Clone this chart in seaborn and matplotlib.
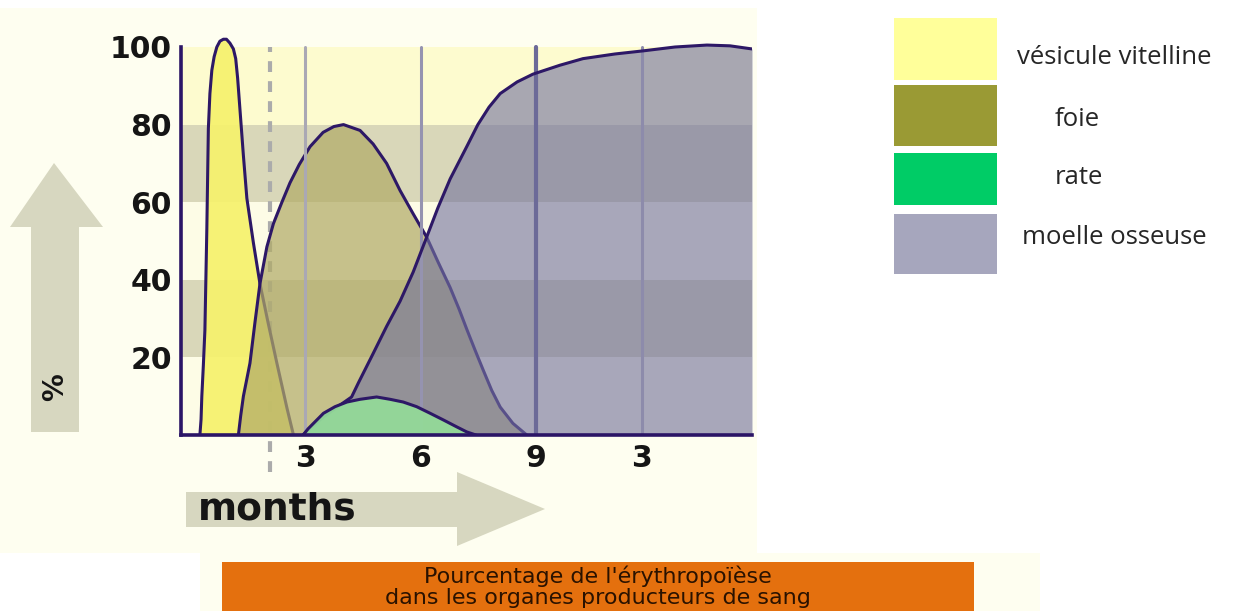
import matplotlib
matplotlib.use("Agg")
import matplotlib.pyplot as plt
from matplotlib.patches import Polygon, Rectangle
import seaborn as sns

# --- values: x = months, y = % of erythropoiesis ---
yolk_x = [0.27, 0.30, 0.32, 0.36, 0.40, 0.45, 0.49, 0.53, 0.58, 0.64, 0.71, 0.79, 0.88,
          0.96, 1.05, 1.14, 1.20, 1.25, 1.31, 1.40, 1.49, 1.66, 1.83, 2.04, 2.27, 2.53, 2.70]
yolk_y = [0, 4, 10, 18, 27, 53, 79, 88, 94, 97.5, 100, 101.5, 102,
          102, 101, 99.5, 97, 92, 84, 72, 61, 49.5, 39, 29, 18.5, 7, 0]

liver_x = [1.27, 1.33, 1.40, 1.57, 1.70, 1.83, 2.01, 2.18, 2.40, 2.61, 2.85, 3.13, 3.47,
           3.75, 4.00, 4.43, 4.77, 5.12, 5.47, 5.81, 6.16, 6.46, 6.77, 7.00, 7.20, 7.42,
           7.63, 7.85, 8.07, 8.40, 8.76]
liver_y = [0, 5, 10, 18.5, 29, 39, 48.5, 54.5, 60, 65, 69.7, 74.3, 78,
           79.5, 80, 78.5, 75, 70, 63, 57, 51, 44.5, 38, 32.5, 27.3, 21.8,
           16.7, 11.5, 7.2, 3, 0]

spleen_x = [2.95, 3.08, 3.22, 3.48, 3.78, 4.09, 4.43, 4.86, 5.21, 5.55, 5.90, 6.25,
            6.59, 6.94, 7.20, 7.44]
spleen_y = [0, 1.6, 3, 5.6, 7.3, 8.5, 9.2, 9.8, 9.2, 8.5, 7.3, 5.6,
            3.9, 2.1, 0.8, 0]

marrow_x = [2.95, 3.20, 3.47, 3.85, 4.21, 4.39, 4.77, 5.12, 5.47, 5.81, 6.16, 6.45,
            6.77, 7.21, 7.49, 7.78, 8.07, 8.51, 8.92, 9.62, 10.22, 11.05, 11.78, 12.61,
            13.44, 14.04, 14.61]
marrow_y = [0, 2.3, 4.6, 7.3, 9.8, 13.5, 21, 28, 34.5, 42, 51, 58.5,
            66, 74.5, 80, 84.5, 88, 91, 93, 95.3, 97, 98.2, 99, 100,
            100.5, 100.3, 99.5]

y_ticks = [20, 40, 60, 80, 100]
y_tick_labels = ["20", "40", "60", "80", "100"]
x_ticks = [3, 6, 9, 11.75]
x_tick_labels = ["3", "6", "9", "3"]
birth_line = 2.09

legend_names = ["vésicule vitelline", "foie", "rate", "moelle osseuse"]
legend_colors = ["#ffff9a", "#9a9a34", "#00cc66", "#a6a6bd"]
caption_lines = ["Pourcentage de l'érythropoïèse",
                 "dans les organes producteurs de sang"]

W, H = 1238, 611
OUTLINE = "#2d1866"

sns.set_style("white")
plt.rcParams["font.family"] = ["DejaVu Sans"]

fig = plt.figure(figsize=(W / 100, H / 100), dpi=100, facecolor="white")


def fx(px):
    return px / W


def fy(py):
    return 1 - py / H


def fig_rect(x0, y0, x1, y1, color, z=0.1):
    fig.patches.append(Rectangle((fx(x0), fy(y1)), fx(x1) - fx(x0), fy(y0) - fy(y1),
                                 transform=fig.transFigure, color=color, lw=0, zorder=z))


# background of the chart image and of the caption
fig_rect(0, 8, 757, 553, "#fefef0")
fig_rect(200, 553, 1040, 611, "#fefef0")
fig_rect(222, 562, 974, 611, "#e4700e", z=0.2)

# decorative arrows
up_arrow = [(31, 432), (79, 432), (79, 227), (103, 227), (54, 163), (10, 227), (31, 227)]
right_arrow = [(186, 492), (457, 492), (457, 472), (545, 509), (457, 546), (457, 527), (186, 527)]
for pts in (up_arrow, right_arrow):
    fig.patches.append(Polygon([(fx(a), fy(b)) for a, b in pts], closed=True,
                               transform=fig.transFigure, color="#d7d7c0", lw=0, zorder=0.2))

# --- main axes ---
x_lo, x_hi = (181 - 189.5) / 38.5, (752 - 189.5) / 38.5
top_px = 435 - 105 * 3.88
ax = fig.add_axes([fx(181), fy(435), fx(752) - fx(181), fy(top_px) - fy(435)])
ax.set_zorder(3)
ax.set_facecolor("none")
ax.set_xlim(x_lo, x_hi)
ax.set_ylim(0, 105)

band_colors = ["#fdfce6", "#d9d7b9", "#fdfce6", "#d9d7b9", "#fdfbcf"]
for i, c in enumerate(band_colors):
    ax.axhspan(i * 20, (i + 1) * 20, color=c, lw=0, zorder=0.5)

ax.axvline(birth_line, ymin=-0.09, ymax=100 / 105, color="#ababab", lw=3,
           ls=(0, (2.6, 2.2)), clip_on=False, zorder=1)

# yolk sac
ax.fill_between(yolk_x, yolk_y, color="#f6f26c", alpha=0.92, lw=0, zorder=2)
sns.lineplot(x=yolk_x, y=yolk_y, ax=ax, color=OUTLINE, lw=2.2, sort=False,
             estimator=None, zorder=2.1)
# liver
ax.fill_between(liver_x, liver_y, color="#b1ab68", alpha=0.72, lw=0, zorder=3)
sns.lineplot(x=liver_x, y=liver_y, ax=ax, color=OUTLINE, lw=2.2, sort=False,
             estimator=None, zorder=3.1)
# bone marrow
ax.fill_between(marrow_x, marrow_y, color="#74749f", alpha=0.62, lw=0, zorder=4)

grid_colors = ["#aaa8b4", "#9593b0", "#6c6a98", "#8d8bab"]
grid_widths = [2.2, 2.2, 3.0, 2.2]
for xt, c, w in zip(x_ticks, grid_colors, grid_widths):
    ax.axvline(xt, ymin=0, ymax=100 / 105, color=c, lw=w, zorder=4.05)

sns.lineplot(x=marrow_x, y=marrow_y, ax=ax, color=OUTLINE, lw=2.2, sort=False,
             estimator=None, zorder=4.1)
# spleen
ax.fill_between(spleen_x, spleen_y, color="#93d999", alpha=0.95, lw=0, zorder=5)
sns.lineplot(x=spleen_x, y=spleen_y, ax=ax, color=OUTLINE, lw=2.2, sort=False,
             estimator=None, zorder=5.1)

for s in ("top", "right"):
    ax.spines[s].set_visible(False)
for s in ("left", "bottom"):
    ax.spines[s].set_color("#2b1566")
    ax.spines[s].set_linewidth(2.6)
    ax.spines[s].set_zorder(6)
ax.spines["left"].set_bounds(0, 100)

ax.set_yticks(y_ticks, labels=y_tick_labels, fontsize=21.5, fontweight="bold", color="#151515")
ax.set_xticks(x_ticks, labels=x_tick_labels, fontsize=21.5, fontweight="bold", color="#151515")
ax.tick_params(axis="y", length=0, pad=6.5)
ax.tick_params(axis="x", length=0, pad=6.5)
ax.set_xlabel("")
ax.set_ylabel("")

fig.text(fx(198), fy(510), "months", fontsize=27, fontweight="bold", color="#151515",
         ha="left", va="center", zorder=4)
fig.text(fx(55), fy(387), "%", fontsize=20, fontweight="bold", color="#151515",
         rotation=90, ha="center", va="center", zorder=4)

# --- legend on the right ---
box_rows = [(18, 80), (85, 146), (153, 205), (214, 274)]
label_left = [1017, 1055, 1055, 1022]
label_mid = [57, 120, 177, 238]
for name, c, (y0, y1), lx, ly in zip(legend_names, legend_colors, box_rows, label_left, label_mid):
    fig_rect(894, y0, 997, y1, c, z=0.2)
    fig.text(fx(lx), fy(ly), name, fontsize=18.5, color="#262626", family=["Open Sans"],
             ha="left", va="center", zorder=4)

# --- caption ---
for line, py in zip(caption_lines, [576, 598]):
    fig.text(fx(598), fy(py), line, fontsize=16, color="#2a1200", ha="center",
             va="center", zorder=4)

fig.savefig("out.png", dpi=100, facecolor="white")
